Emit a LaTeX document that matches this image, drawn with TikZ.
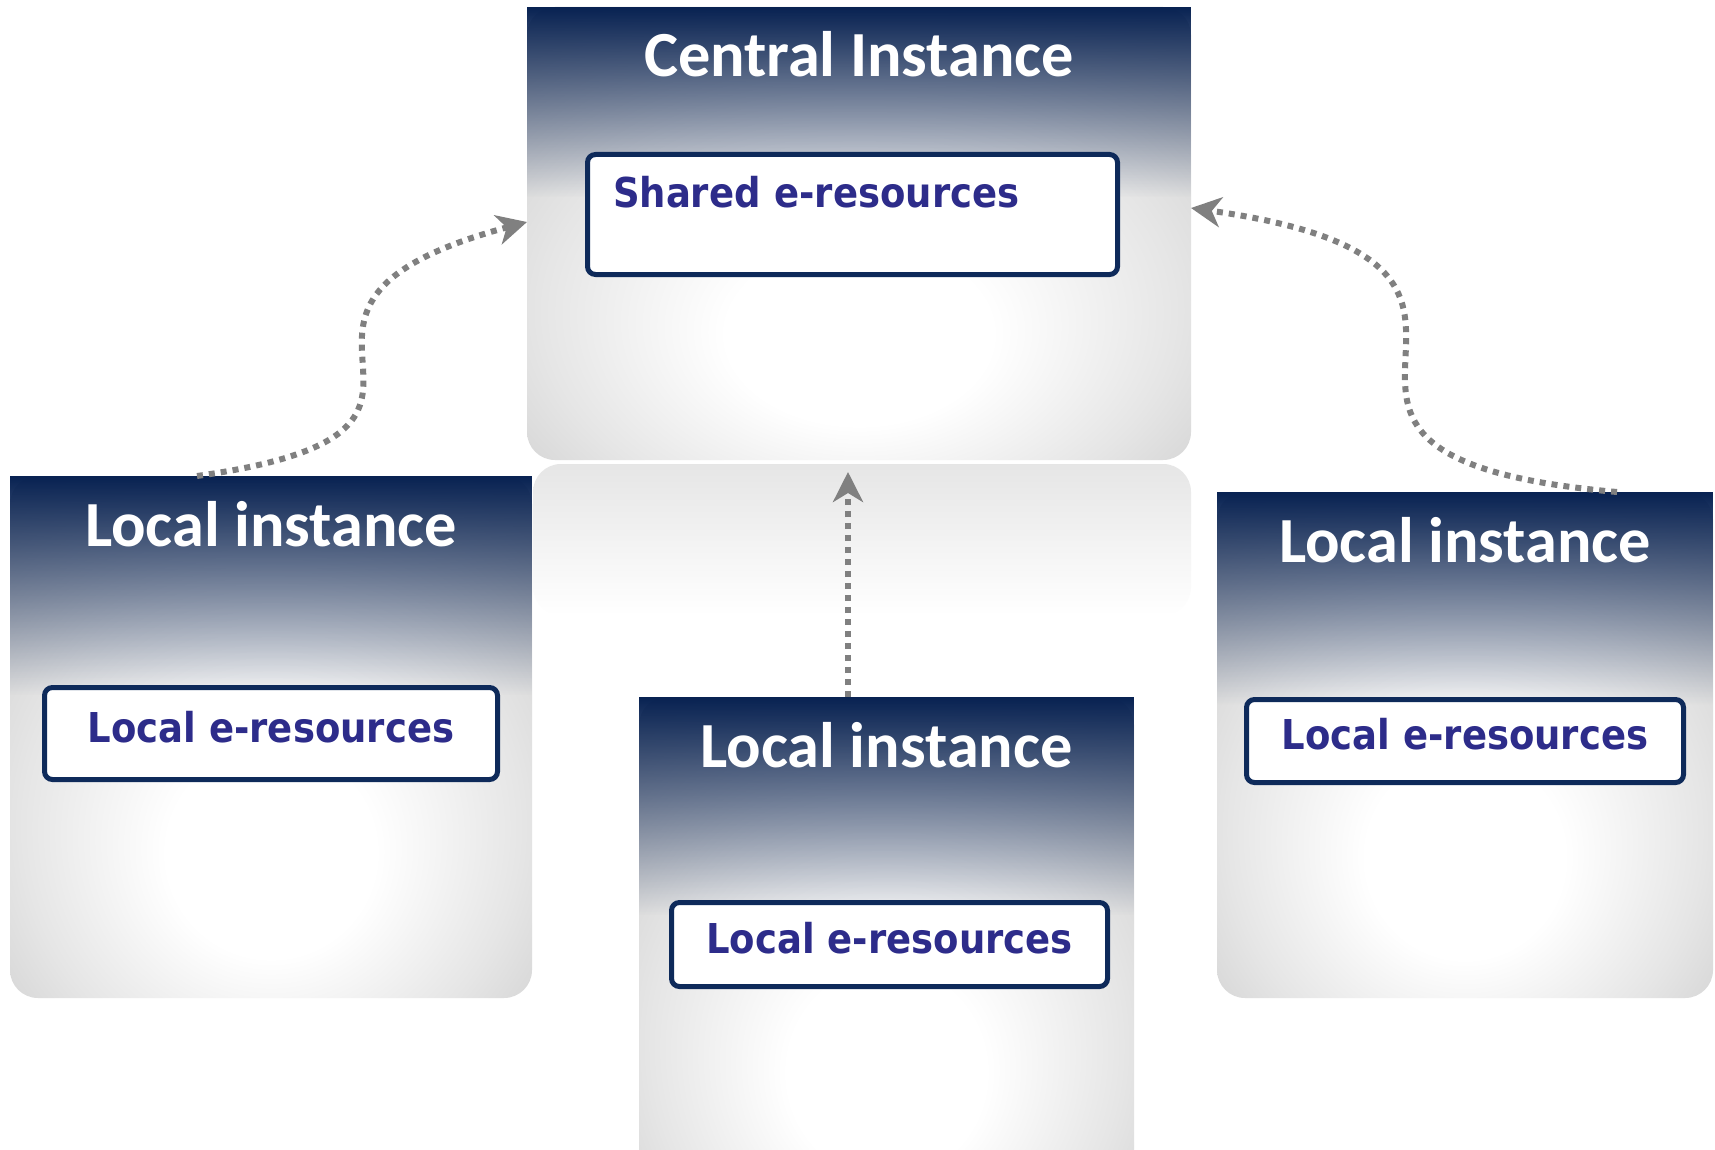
\documentclass[tikz,border=0pt]{standalone}
\usepackage{fontspec}
\newfontfamily\titlefont{Carlito}
\newfontfamily\resfont{DejaVu Sans}[FakeStretch=0.9]
\usetikzlibrary{positioning,arrows.meta,calc,fadings}
\definecolor{hdrnavy}{RGB}{8,34,82}
\definecolor{boxborder}{RGB}{14,42,90}
\definecolor{restext}{RGB}{45,44,138}
\definecolor{linkgray}{RGB}{128,128,128}
\pgfdeclareradialshading{glow}{\pgfpoint{0bp}{-13bp}}{color(0bp)=(white); color(10bp)=(white); color(24bp)=(black!10); color(36bp)=(black!20); color(50bp)=(black!28); color(70bp)=(black!38)}
\tikzfading[name=hdrfade, top color=transparent!0, middle color=transparent!35, bottom color=transparent!100]
\tikzset{
  instance/.style={shade, shading=glow, rounded corners=0.28cm, inner sep=0pt, outer sep=0pt},
  header/.style={fill=hdrnavy, path fading=hdrfade},
  title/.style={text=white, font=\titlefont\bfseries\fontsize{18.3pt}{20pt}\selectfont, anchor=base},
  resbox/.style={draw=boxborder, fill=white, line width=0.05cm, rounded corners=0.08cm, text=restext,
                 font=\resfont\bfseries\fontsize{11.7pt}{13pt}\selectfont, text height=8pt, text depth=3pt},
  link/.style={draw=linkgray, line width=0.06cm, dash pattern=on 0.06cm off 0.06cm,
               -{Stealth[length=0.3cm, width=0.3cm, inset=0.09cm]}},
}

\begin{document}
\begin{tikzpicture}
\clip (0,0) rectangle (17.15,-11.49);
\fill[white] (0,0) rectangle (17.15,-11.49);

%Instances
\node[instance, minimum width=6.64cm, minimum height=4.53cm, anchor=north] (central) at (8.59,-0.07) {};
\node[instance, minimum width=5.22cm, minimum height=5.22cm, anchor=north] (local1) at (2.71,-4.76) {};
\node[instance, minimum width=4.95cm, minimum height=5.2cm, below=2.37cm of central, xshift=2.75mm] (local2) {};
\node[instance, minimum width=4.96cm, minimum height=5.06cm, anchor=north] (local3) at (14.65,-4.92) {};

%Reflection under the central instance
\shade[top color=black!10, bottom color=white, rounded corners=0.28cm]
  ([xshift=0.06cm, yshift=-0.04cm]central.south west) rectangle ([yshift=-1.55cm]central.south east);

%Headers
\foreach \n/\t in {central/Central Instance, local1/Local instance, local2/Local instance, local3/Local instance}{
  \fill[header] (\n.north west) rectangle ($(\n.north east)!0.42!(\n.south east)$);
  \node[title] (\n-title) at ([yshift=-0.70cm]\n.north) {\t};
}

%Resources
\node[resbox, minimum width=5.30cm, minimum height=1.20cm, text width=4.79cm, align=left,
      inner xsep=0.255cm, inner ysep=0pt, text height=0.525cm, text depth=0.675cm,
      below=1.45cm of central.north, xshift=-0.065cm] (shared) {Shared e-resources};
\node[resbox, minimum width=4.53cm, minimum height=0.92cm, below=2.09cm of local1.north] (res1) {Local e-resources};
\node[resbox, minimum width=4.36cm, minimum height=0.84cm, below=2.03cm of local2.north, xshift=0.03cm] (res2) {Local e-resources};
\node[resbox, minimum width=4.37cm, minimum height=0.83cm, below=2.05cm of local3.north] (res3) {Local e-resources};

%Links
\coordinate[below=0.12cm of central.south, xshift=-0.11cm] (hub);
\draw[link] (local2.north -| hub) -- (hub);
\draw[link] ([xshift=-0.74cm]local1.north) .. controls +(8:3.4) and +(195:3.4) .. ([yshift=0.115cm]central.west);
\draw[link] ([xshift=1.52cm]local3.north) .. controls +(175:4.3) and +(352:4.3) .. ([yshift=0.255cm]central.east);
\end{tikzpicture}
\end{document}
